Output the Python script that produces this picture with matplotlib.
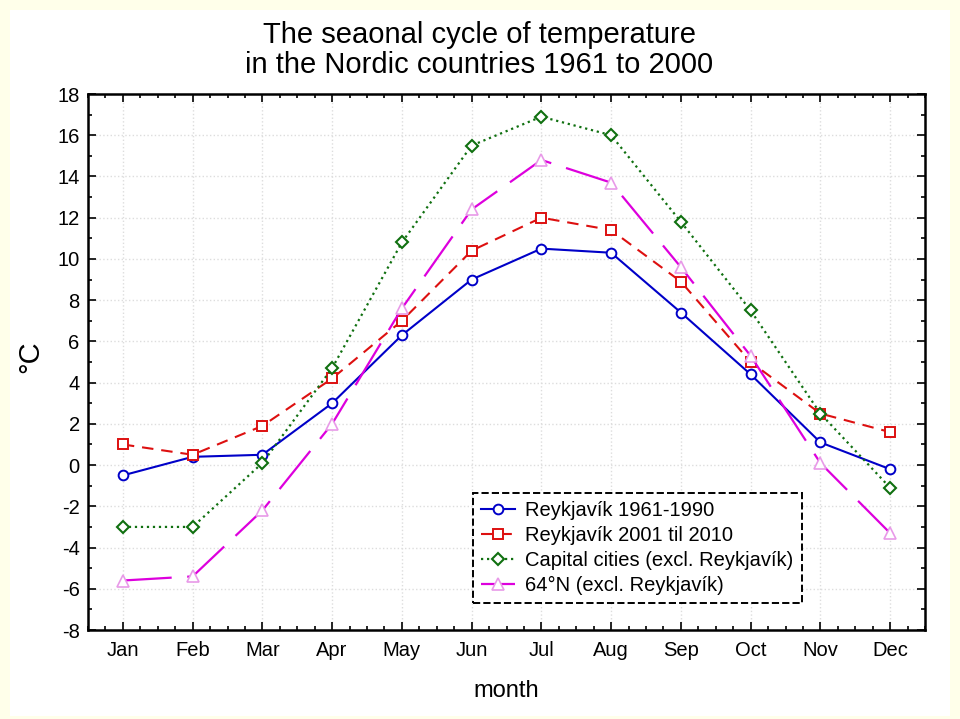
import numpy as np
import matplotlib.pyplot as plt
from matplotlib.patches import Rectangle
from matplotlib.ticker import MultipleLocator

plt.rcParams['font.family'] = ['Liberation Sans', 'DejaVu Sans']
plt.rcParams['axes.unicode_minus'] = False

months = ["Jan", "Feb", "Mar", "Apr", "May", "Jun",
          "Jul", "Aug", "Sep", "Oct", "Nov", "Dec"]

reykjavik_1961_1990 = [-0.5, 0.4, 0.5, 3.0, 6.3, 9.0, 10.5, 10.3, 7.4, 4.4, 1.1, -0.2]
reykjavik_2001_2010 = [1.0, 0.5, 1.9, 4.2, 7.0, 10.4, 12.0, 11.4, 8.9, 5.0, 2.5, 1.6]
capital_cities = [-3.0, -3.0, 0.1, 4.7, 10.8, 15.5, 16.9, 16.0, 11.8, 7.5, 2.5, -1.1]
north_64 = [-5.6, -5.4, -2.2, 2.0, 7.6, 12.4, 14.8, 13.7, 9.6, 5.3, 0.1, -3.3]

x = np.arange(1, 13)

fig = plt.figure(figsize=(9.6, 7.19), dpi=100, facecolor="#FFFFEA")
fig.patches.append(Rectangle((10 / 960, 3 / 719), 940 / 960, 706 / 719,
                             transform=fig.transFigure, facecolor="white",
                             edgecolor="none", zorder=-5))

ax = fig.add_axes([88 / 960, 89 / 719, 837 / 960, 536 / 719])
ax.set_zorder(1)

ax.plot(x, reykjavik_1961_1990, color="#0000C8", lw=1.5, marker="o", ms=7,
        mfc="white", mec="#0000C8", mew=1.4, label="Reykjavík 1961-1990")
ax.plot(x, reykjavik_2001_2010, color="#DD1010", lw=1.5, dashes=(5.5, 3.8),
        marker="s", ms=7, mfc="white", mec="#DD1010", mew=1.4,
        label="Reykjavík 2001 til 2010")
ax.plot(x, capital_cities, color="#107010", lw=1.6, dashes=(1, 1.7),
        marker="D", ms=6, mfc="white", mec="#107010", mew=1.5,
        label="Capital cities (excl. Reykjavík)")
ax.plot(x, north_64, color="#DD00DD", lw=1.6, dashes=(22, 7),
        marker="^", ms=8, mfc="white", mec="#E89AE8", mew=1.2,
        label="64°N (excl. Reykjavík)")

ax.set_xlim(0.5, 12.5)
ax.set_ylim(-8, 18)
ax.set_xticks(x)
ax.set_xticklabels(months)
ax.xaxis.set_minor_locator(MultipleLocator(0.25))
ax.yaxis.set_major_locator(MultipleLocator(2))
ax.yaxis.set_minor_locator(MultipleLocator(1))

ax.tick_params(which="both", direction="in", top=True, right=True,
               width=1.2, labelsize=14.5)
ax.tick_params(which="major", length=6)
ax.tick_params(which="minor", length=3)
ax.tick_params(axis="x", pad=8)
ax.tick_params(axis="y", pad=6)
for spine in ax.spines.values():
    spine.set_linewidth(1.8)

ax.grid(True, which="major", color="#DDDDDD", linestyle=":", linewidth=1)
ax.set_axisbelow(True)

ax.set_xlabel("month", fontsize=17, labelpad=14)
fig.text(30 / 960, 1 - 357 / 719, "°C", fontsize=21, rotation=90,
         ha="center", va="center")

fig.text(0.499, 1 - 50 / 719,
         "The seaonal cycle of temperature\nin the Nordic countries 1961 to 2000",
         fontsize=21, ha="center", va="center", linespacing=1.08)

leg = ax.legend(loc="lower left", bbox_to_anchor=(0.46, 0.05), fontsize=14.5,
                frameon=True, fancybox=False, handlelength=1.7,
                borderpad=0.4, labelspacing=0.3, handletextpad=0.5,
                borderaxespad=0)
frame = leg.get_frame()
frame.set_edgecolor("black")
frame.set_linestyle("--")
frame.set_linewidth(1.4)
frame.set_facecolor("white")
frame.set_alpha(1)

fig.savefig("out.png", dpi=100, facecolor=fig.get_facecolor())
